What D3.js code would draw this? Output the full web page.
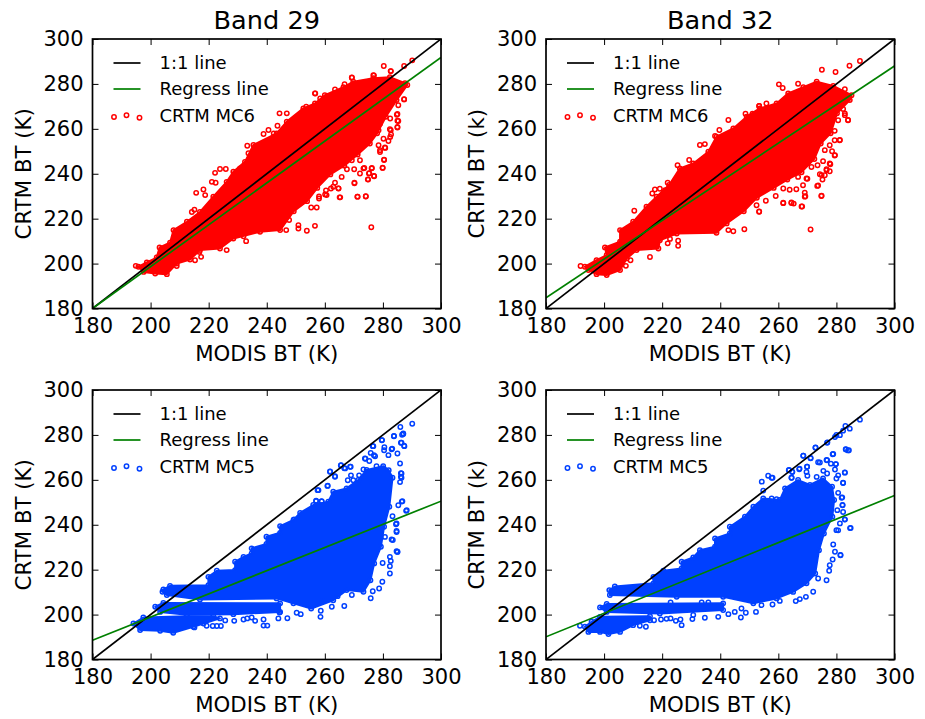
<!DOCTYPE html>
<html>
<head>
<meta charset="utf-8">
<script src="https://cdnjs.cloudflare.com/ajax/libs/d3/7.8.5/d3.min.js"></script>
<style>
  html, body { margin: 0; padding: 0; background: #fff; }
  text { font-family: "DejaVu Sans", sans-serif; fill: #000; }
</style>
</head>
<body>
<svg id="chart"></svg>
<script>
const ticks = [180, 200, 220, 240, 260, 280, 300];
const legendNames = ["1:1 line", "Regress line"];

// regression line ends, CRTM BT at MODIS 180 and 300
const regress29mc6 = [180, 291.8];
const regress32mc6 = [184.8, 288];
const regress29mc5 = [188.6, 250.5];
const regress32mc5 = [190.1, 253];

// the cloud centres are saturated, so they are read as outlines [MODIS, CRTM]
const core29mc6 = [[195.8,198.6],[198.7,200.5],[202.1,202.7],[203.1,207.2],[206.7,209.3],[207.9,214.9],[212.5,218.6],[217,223],[221.6,229.8],[226.2,236.4],[228.5,240.9],[232.5,245.3],[235.4,252.8],[243.4,258],[246.9,263.2],[252.6,269.1],[256.6,271.3],[260,275],[266.4,278.5],[269.8,281],[276.7,282.5],[282.4,283],[287.6,280.3],[288.4,279.5],[284.7,272.8],[281,265.4],[278,258],[275.5,253.5],[271.3,248.6],[266.7,243.6],[261.9,239.7],[257.4,233.7],[253.9,227.8],[249.3,223.3],[244.6,214.9],[237.7,214.2],[228.5,211.2],[223.9,206.7],[217,206],[213.6,201.8],[209,200],[205.6,195.3],[201.6,195.6],[197.6,196.3]];
const core32mc6 = [[193.4,198.6],[197.4,201.5],[200.9,203.8],[200.3,207.2],[205.5,209.7],[205.5,214.9],[210,218.6],[214.6,225.3],[218.1,229.8],[222.4,235],[226.1,242.4],[230.7,244.6],[235.9,249.8],[238.7,256.5],[244.5,260.2],[249.1,265.4],[253.6,269.1],[259.4,271.3],[263.4,275.8],[268.6,278.5],[273.2,281],[278.9,279.1],[285.2,275],[284.6,272.8],[280.2,266.9],[278,258],[274.6,253.5],[272.4,246.6],[268,240.7],[263.1,237.4],[258.4,233.7],[252.6,229.3],[248.1,223.3],[242.2,217.9],[238.7,213.7],[225,213.4],[219.2,210.4],[218.7,206.7],[211.2,206],[207.8,202.3],[205.5,197.1],[200.9,194.9],[197.4,195.3],[194.6,197.1]];
const core29mc5 = [
  [[194.1,196],[197.5,198.7],[212.4,199.3],[221.6,199.3],[223.9,198.3],[218.2,196],[214.7,194.6],[207.8,191.9],[203.3,192.8],[196.4,193.1]],
  [[201.6,203.5],[204.4,205.2],[244.6,205],[244.6,201.2],[228.5,200.2],[212.5,199.9],[203.3,201.2]],
  [[204.4,211.2],[206.7,212.8],[219.9,213.1],[219.9,216.8],[222.8,219.5],[229.1,219.8],[229.1,223.5],[232,225.7],[234.8,227.2],[234.8,229.5],[239.9,231.4],[239.9,234.7],[244.6,236.4],[244.6,239.4],[249.2,242.1],[251.5,245.3],[256,248.8],[261.2,250.3],[262.9,254.7],[267.5,256.2],[271.5,259.9],[274.4,264.4],[280.1,266.1],[282,264.3],[283.3,260.9],[282.2,248],[280.4,239.1],[279.3,230.2],[277,222.8],[275.7,215.3],[273.3,210.2],[267.5,210.9],[262.9,206.4],[255.3,202.7],[249.2,205],[243.4,207.2],[217,206.7],[205.6,208.7],[204.1,210.2]]
];
const core32mc5 = [
  [[193.4,194.6],[195.7,196.8],[198.6,199],[215.8,199.3],[215.8,197.5],[210,195.3],[205.5,192.3],[201.5,191.3],[198.6,192.3],[194.6,192.3]],
  [[198.6,203.2],[200.9,204.7],[241,205],[241,202],[219.2,200.5],[200.9,201.2]],
  [[201.8,210.9],[203.7,212.5],[217,213.9],[217,216.8],[220.4,219.5],[226.7,220.5],[226.7,223.5],[230.7,225.4],[233,228.7],[238.2,230.2],[238.2,233.9],[243.3,236.1],[243.3,239.1],[248.5,243.6],[251.4,248],[254.8,251.7],[260.5,251],[262.3,256.2],[266.8,259.9],[270.9,257.7],[275.4,260.6],[278.5,256.9],[279.2,251],[278.6,243.6],[275.7,236.1],[274,228.7],[272.7,218.3],[269.7,213.9],[265.1,210.1],[259.4,207.2],[251.4,205],[241,207.9],[225,207.9],[202,208.7]]
];

// scattered points around the clouds [MODIS, CRTM]
const points29mc6 = [[290.1,290.5],[287.3,288],[280.3,288],[282.7,285.7],[269.3,282.9],[276.9,283.8],[287.3,273.1],[285,266.6],[285,263.6],[285,260.8],[282.8,257.5],[282.4,259.8],[280.7,251.7],[279,250.5],[280.4,246.1],[279.9,242.7],[276.9,239],[276.1,242.4],[274.8,237.5],[275.3,240.2],[273.3,242.4],[270.2,236],[271.3,229.8],[274.1,229.9],[276,216.2],[265.1,229.5],[264.7,233.5],[262.9,234.2],[260.6,230.5],[258,229],[257.2,225],[255.3,225],[256.6,216.8],[253.8,214.6],[250.9,215.6],[250.9,217.1],[247.7,219.4],[246.7,214.9],[244.4,266.9],[246.9,266.9],[256.6,275.8],[243.7,261.4],[238.9,257.7],[240.6,259.5],[242.4,258],[233.3,252.5],[233.7,249.1],[230.8,242.4],[223.9,242.1],[225.9,242.1],[222.2,240.4],[221.1,236.4],[222.4,236],[218.2,233],[215.7,231.5],[218.8,230.5],[214.2,223],[215.1,224],[232,212.2],[232.9,210],[226.2,206],[216.8,205.2],[217.4,203],[215.3,201.5],[209,198.9],[194.9,199]];
const points32mc6 = [[288.1,290.2],[284.5,288.1],[275,286.3],[279.7,285.3],[260.2,279.8],[261.5,278.2],[266.8,280.1],[242.8,263.9],[248.7,266.7],[251.1,266.7],[253.4,270.2],[239.7,259.5],[238.2,256.8],[233,252.8],[234.7,253.2],[229.3,246.1],[225.3,243.8],[221.9,236],[217.5,233],[219.2,233.3],[221,232.7],[216.6,231.2],[210.4,223.5],[274.9,230.2],[269.1,229.8],[268,225.4],[264.5,227.2],[261.7,227.1],[271.1,215.2],[248.3,215.3],[244.5,214.4],[242.8,214.9],[253.4,223.2],[284,263.9],[282.9,266.9],[282.3,268.8],[282.9,277.6],[281.2,255],[279.5,248.3],[277.7,244.6],[276.6,241.6],[274.9,239.4],[273.7,234.8],[269.7,237.9],[222.7,211],[225.5,207.9],[221.9,209],[225.5,210.2],[215.8,202.9],[207.5,199],[209.1,201.5],[191.9,198.9]];
const points29mc5 = [[290.1,285],[286,283.5],[287,280.4],[286.6,280.1],[283.8,279.5],[279.7,277.7],[280.5,274.5],[283,273.6],[287.3,275.2],[286.2,276.5],[276.5,275],[274,269.4],[276.9,271],[268.7,265.8],[265.5,266.4],[267,265.1],[261.8,263.6],[263.5,261.4],[257.8,255.4],[261,257.4],[257,250.7],[258.9,250.4],[249.4,242.4],[286.2,262.9],[286.2,261.4],[285.9,267.3],[286.5,250.3],[288,246.2],[284.7,240.6],[284.7,237.2],[283.4,233.2],[285,228],[284.7,228.2],[282.4,218.3],[279.8,214.6],[278.7,211.6],[276.5,210.4],[275.8,207.3],[269.3,208.7],[266.7,203.8],[264.4,208.2],[262.4,203.5],[259.2,206.1],[258.6,201.7],[258.5,199],[251.7,200.2],[250.3,200.8],[247.1,198.4],[244,198.3],[244.4,200.9],[240.2,195.1],[238.9,195.1],[238.9,197.8],[236,197.2],[234.8,198.7],[233.3,198.3],[232,197.8],[228.8,197.2],[225.7,197.4],[224.2,194.9],[222.8,194.9],[221.4,194.9],[219.3,195],[215.1,194.3]];
const points32mc5 = [[288.1,286.8],[283.1,284],[284.6,282.8],[282.3,281.9],[280,280],[276.9,276.7],[272.8,274.3],[283.2,273.6],[284,273.1],[278.9,271.5],[268.6,270.7],[271.1,269.7],[273.7,267.8],[276.6,268.8],[279.8,267],[269.9,265.8],[263.7,264.4],[264.8,263.6],[267.3,265],[282.9,263.3],[256.5,261.8],[258,260.9],[254.3,259.2],[264.5,260.9],[282.3,258.7],[254.8,255.2],[282,252.2],[282.1,248.8],[282.9,242.4],[281.2,240.6],[284.7,238.5],[280,237.6],[281.4,226.5],[279.5,228],[277.7,222],[277.5,219.5],[276.6,215.3],[273.7,216.1],[272,210.2],[269.5,207.9],[267.4,206.9],[266,206],[260.5,206.1],[258,204.5],[254.2,204.2],[252.3,201.2],[248.8,200.8],[247.3,202.7],[247.1,198.7],[245,201.2],[242.8,200.2],[239.3,199],[234.7,198.6],[230.7,199.8],[230.4,198],[226.7,195.3],[226.3,197.8],[224.7,197.2],[222.9,198.3],[221.5,198.1],[219.6,197.8],[217.2,197.5],[214.4,194.6],[212.3,195],[222.9,205.4],[233.6,205.4],[235.9,205.4],[191.7,195]];

const fringe29mc6 = [[256.7,275.7],[269.3,282.8],[266.8,279.9],[276.7,283.9],[282.7,285.7],[263.5,277.5],[253.6,269.8],[258.4,273.5],[287.3,273.2],[285.3,270.5],[284.8,266.3],[285.3,263.5],[285,260.6],[282.7,259.4],[282.5,256.4],[281.9,254.6],[280.2,255.6],[280.8,251.5],[278.5,252.7],[279,249.7],[280.4,246.3],[279.9,242.6],[276.2,242.6],[273.6,242.6],[275.2,240.1],[277,238.9],[274.9,237.4],[272.1,240.1],[270.1,242],[267.6,242],[270.2,235.8],[271.2,229.8],[274.1,230],[265.3,229.5],[264.7,233.4],[262.1,233.4],[260.4,232.6],[263.5,236],[265.8,238.6],[269.3,246],[272.1,246],[258,229.9],[260.1,230.8],[282.5,264.6],[278.5,259.4],[279,262.3]];
const fringe32mc6 = [[253.4,270.2],[255.9,271.3],[284,263.8],[282.9,266.1],[280.6,263.8],[281.1,254.9],[279.4,254.9],[279.4,259.1],[277.7,252.7],[276,250.5],[278.5,250],[279.4,248.1],[277.9,244.2],[275.4,245.6],[273.5,243.8],[271.4,243],[276.6,242],[277.7,241.1],[274.3,239.8],[276,239.3],[275.2,237.4],[273.4,234.6],[270,237.8],[268.5,234.9],[266.2,233.1],[263.9,232.9],[261.7,233.4],[274.8,230.1],[269.1,231.6],[269.3,230],[259.1,230.1],[255.7,228],[261.7,226.9],[264.5,227],[265.3,226.7],[268.2,225.4],[253.4,223.1],[252.5,226],[266.8,238.6]];
const fringe29mc5 = [[287,280.6],[283.8,279.4],[279.6,277.6],[286.4,276.5],[287.4,275],[276.7,275],[275.8,272],[277.3,270.5],[273.8,269.5],[275.3,268.4],[283.2,273.9],[280.4,273.2],[281.9,271],[285,271.7],[277.8,266.1],[273.3,264.6],[268.9,265.8],[265.6,266.5],[266.7,265.2],[261.8,263.7],[263.5,261.6],[269,262],[267.9,259.8],[269.8,259.8],[271.8,262],[257.5,255.4],[260.9,257.3],[257,250.5],[258.9,250.5],[286.4,262.8],[286.4,260.9],[285.9,259],[286.7,250.5],[285.3,248.7],[288.2,246.5],[283.3,243.8],[284.5,240.2],[284.7,236.8],[283,233.4],[280.7,234.6],[285,227.9],[282.4,225.7],[282.7,223.9],[282.4,221.5],[279.9,223]];
const fringe32mc5 = [[281.2,279.9],[279.5,279.1],[276.8,276.5],[272.8,274.4],[283.3,273.5],[284.3,273.2],[278.7,271.4],[268.6,270.7],[271.1,269.6],[274.3,267.7],[276.8,268.7],[278.1,267.2],[279.8,267],[269.9,265.8],[263.6,264.3],[264.8,263.5],[267.2,264.7],[282.9,263.2],[269.7,263.5],[270,261.8],[275.5,264],[276.8,262.8],[280.6,262],[279.5,264.6],[257.7,260.9],[264.6,260.9],[273.2,261.3],[282.3,258.6],[280,260.6],[281.8,252],[280.6,254.2],[282.1,248.7],[280.3,246.5],[282.3,245.7],[282.9,242.3],[284.9,238.6],[280.6,237.5],[278.9,231.2],[281.4,226.4],[278.7,224.5],[257.7,251.7],[259.4,251.4]];

const panels = [
  { title: "Band 29", name: "CRTM MC6", yLabel: "CRTM BT (K)", color: "#ff0000", left: 92.5, top: 39, core: [core29mc6], points: points29mc6, fringe: fringe29mc6, regress: regress29mc6 },
  { title: "Band 32", name: "CRTM MC6", yLabel: "CRTM BT (k)", color: "#ff0000", left: 546, top: 39, core: [core32mc6], points: points32mc6, fringe: fringe32mc6, regress: regress32mc6 },
  { title: "", name: "CRTM MC5", yLabel: "CRTM BT (K)", color: "#0040ff", left: 92.5, top: 390, core: core29mc5, points: points29mc5, fringe: fringe29mc5, regress: regress29mc5 },
  { title: "", name: "CRTM MC5", yLabel: "CRTM BT (k)", color: "#0040ff", left: 546, top: 390, core: core32mc5, points: points32mc5, fringe: fringe32mc5, regress: regress32mc5 }
];

const width = 925, height = 719;
const plotW = 348.5, plotH = 269.5;
const ringR = 2.2, ringW = 1.5;

const svg = d3.select("#chart").attr("width", width).attr("height", height);

panels.forEach((p, i) => {
  const g = svg.append("g").attr("transform", `translate(${p.left},${p.top})`);
  const clipId = "clip" + i;
  g.append("clipPath").attr("id", clipId).append("rect").attr("width", plotW).attr("height", plotH);

  const x = d3.scaleLinear().domain([180, 300]).range([0, plotW]);
  const y = d3.scaleLinear().domain([180, 300]).range([plotH, 0]);

  const plot = g.append("g").attr("clip-path", `url(#${clipId})`);
  const outline = d3.line().x(d => x(d[0])).y(d => y(d[1])).curve(d3.curveLinearClosed);

  plot.selectAll("path.core").data(p.core).enter().append("path")
    .attr("class", "core")
    .attr("d", outline)
    .attr("fill", p.color)
    .attr("stroke", p.color)
    .attr("stroke-width", 2)
    .attr("stroke-linejoin", "round");

  // outline vertices get a marker too, so the edge of the cloud stays bumpy
  plot.selectAll("circle").data(p.points.concat(p.fringe, p.core.flat())).enter().append("circle")
    .attr("cx", d => x(d[0]))
    .attr("cy", d => y(d[1]))
    .attr("r", ringR)
    .attr("fill", "none")
    .attr("stroke", p.color)
    .attr("stroke-width", ringW);

  plot.append("line")
    .attr("x1", x(180)).attr("y1", y(180)).attr("x2", x(300)).attr("y2", y(300))
    .attr("stroke", "#000").attr("stroke-width", 1.7);
  plot.append("line")
    .attr("x1", x(180)).attr("y1", y(p.regress[0])).attr("x2", x(300)).attr("y2", y(p.regress[1]))
    .attr("stroke", "#008000").attr("stroke-width", 1.7);

  // ticks point inwards on all four sides, like the old matplotlib style
  const axes = [
    d3.axisBottom(x).tickValues(ticks).tickSize(-6).tickPadding(10),
    d3.axisLeft(y).tickValues(ticks).tickSize(-6).tickPadding(9),
    d3.axisTop(x).tickValues(ticks).tickSize(-6).tickFormat(""),
    d3.axisRight(y).tickValues(ticks).tickSize(-6).tickFormat("")
  ];
  const shift = [`translate(0,${plotH})`, "", "", `translate(${plotW},0)`];
  axes.forEach((a, k) => {
    const ag = g.append("g").attr("transform", shift[k]).call(a);
    ag.select(".domain").remove();
    ag.selectAll("line").attr("stroke", "#000").attr("stroke-width", 1);
    ag.selectAll("text").attr("font-size", 21).attr("fill", "#000");
  });

  g.append("rect").attr("width", plotW).attr("height", plotH)
    .attr("fill", "none").attr("stroke", "#000").attr("stroke-width", 1.7);

  // legend
  const legend = g.append("g");
  const rowY = [24, 50, 77];
  legendNames.forEach((n, k) => {
    legend.append("line").attr("x1", 21).attr("x2", 48).attr("y1", rowY[k]).attr("y2", rowY[k])
      .attr("stroke", k === 0 ? "#000" : "#008000").attr("stroke-width", 1.7);
    legend.append("text").attr("x", 67).attr("y", rowY[k] + 6).attr("font-size", 18).text(n);
  });
  [[21.5, 78], [34, 76.3], [47, 78.7]].forEach(m => {
    legend.append("circle").attr("cx", m[0]).attr("cy", m[1]).attr("r", ringR)
      .attr("fill", "none").attr("stroke", p.color).attr("stroke-width", ringW);
  });
  legend.append("text").attr("x", 67).attr("y", rowY[2] + 6).attr("font-size", 18).text(p.name);

  g.append("text").attr("x", plotW / 2).attr("y", plotH + 52).attr("text-anchor", "middle")
    .attr("font-size", 21.3).text("MODIS BT (K)");
  g.append("text")
    .attr("transform", `translate(${-62},${plotH / 2}) rotate(-90)`)
    .attr("text-anchor", "middle").attr("font-size", 21.3).text(p.yLabel);
  if (p.title) {
    g.append("text").attr("x", plotW / 2).attr("y", -10).attr("text-anchor", "middle")
      .attr("font-size", 25.6).text(p.title);
  }
});
</script>
</body>
</html>
